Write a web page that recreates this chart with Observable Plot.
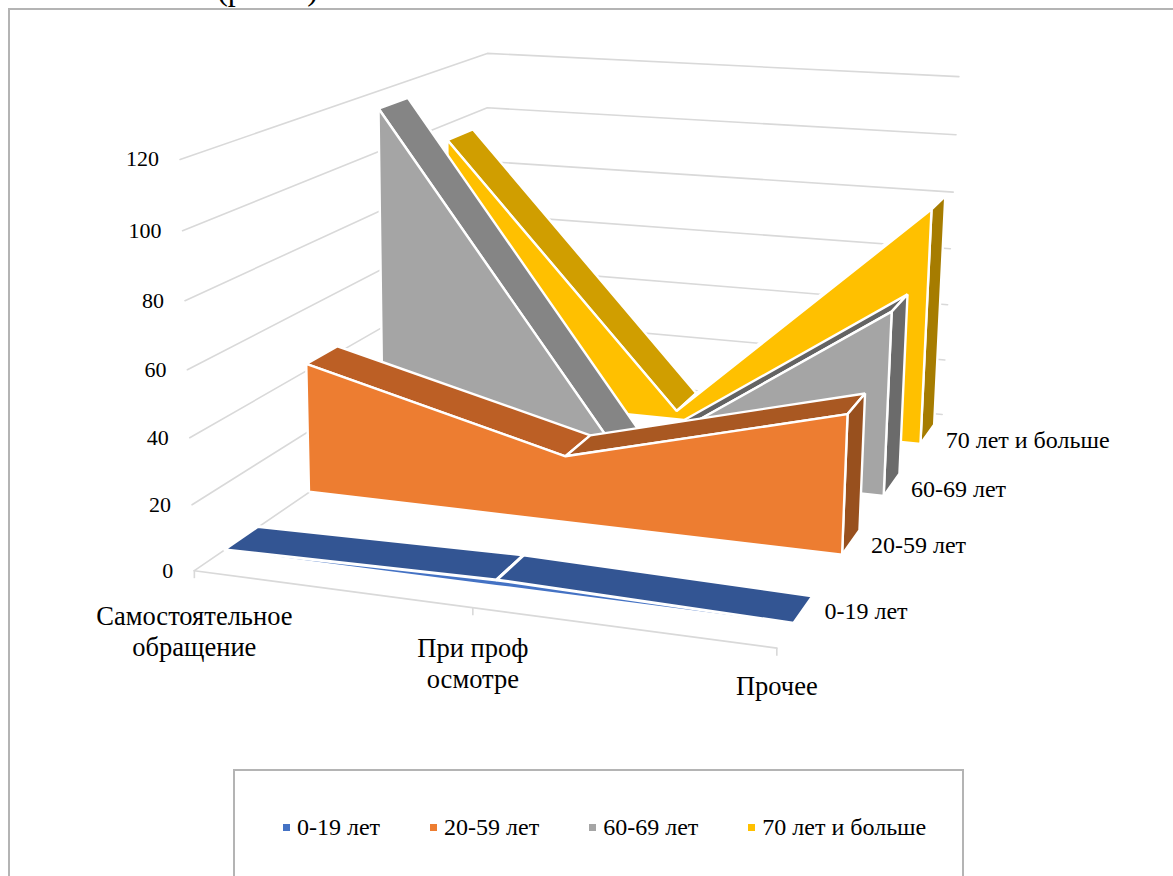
<!DOCTYPE html>
<html lang="ru">
<head>
<meta charset="utf-8">
<script src="https://cdn.jsdelivr.net/npm/d3@7"></script>
<script src="https://cdn.jsdelivr.net/npm/@observablehq/plot@0.6"></script>
<style>
  html, body { margin: 0; padding: 0; background: #fff; }
  #page { position: relative; width: 1173px; height: 876px; overflow: hidden; font-family: "Liberation Serif", serif; color: #000; }
  #frame { position: absolute; left: 8px; top: 8px; width: 1300px; height: 1000px; border: 2px solid #b4b4b4; box-sizing: border-box; }
  #chart { position: absolute; left: 0; top: 0; }
  #chart svg { display: block; background: transparent; }
  #legend { position: absolute; left: 233px; top: 769px; width: 731px; height: 200px; border: 2px solid #b4b4b4; box-sizing: border-box; background: #fff; }
  #legend .row { position: absolute; top: 42px; left: 48px; display: flex; gap: 50px; font-size: 24px; line-height: 28px; white-space: nowrap; }
  #legend .item { display: flex; align-items: center; gap: 7px; }
  #legend .sw { width: 7px; height: 7px; display: inline-block; }
</style>
</head>
<body>
<div id="page">
  <div id="frame"></div>
  <div id="chart"></div>
  <div id="legend"><div class="row"></div></div>
</div>
<script>
// Admission routes along the category axis, age groups along the depth axis.
const categories = ["Самостоятельное\nобращение", "При проф\nосмотре", "Прочее"];
const seriesNames = ["0-19 лет", "20-59 лет", "60-69 лет", "70 лет и больше"];
const values0to19 = [0, 1.5, 0];
const values20to59 = [42, 21, 43];
const values60to69 = [114, 2, 60];
const values70plus = [94, 3, 81];
const valueTicks = [0, 20, 40, 60, 80, 100, 120];
const categoryLabelDrop = [60, 55, 37];

// Face colours per series: front, top of first slope, top of second slope, right end.
const facePalette = [
  {front: "#4472c4", top: ["#335593", "#335593"], side: "#2f5089"},
  {front: "#ed7d31", top: ["#bc5f25", "#a95822"], side: "#98501e"},
  {front: "#a5a5a5", top: ["#858585", "#636363"], side: "#6b6b6b"},
  {front: "#ffc000", top: ["#d09e00", "#d09e00"], side: "#a67c00"}
];
const seriesValues = [values0to19, values20to59, values60to69, values70plus];
const bandFront = [0.08, 0.33, 0.58, 0.835];
const bandBack = [0.175, 0.43, 0.685, 0.94];
const uAt = [0, 0.5, 1];
const wMax = 120;

// Camera of the 3D box: box corners (u, v, w) and where they land on the page.
const cameraAnchors = [
  [0, 0, 0, 196, 570], [1, 0, 0, 776, 648], [0.5, 0, 0, 473, 607],
  [0, 1, 0, 484, 370], [1, 1, 0, 943, 414],
  [0, 0, 1, 177, 159], [0, 1, 1, 490, 53], [1, 1, 1, 957, 76]
];

// Least-squares solve of the 11-parameter projective camera.
function solveCamera(anchors) {
  const rows = [];
  for (const [u, v, w, X, Y] of anchors) {
    rows.push([u, v, w, 1, 0, 0, 0, 0, -X * u, -X * v, -X * w, X]);
    rows.push([0, 0, 0, 0, u, v, w, 1, -Y * u, -Y * v, -Y * w, Y]);
  }
  const n = 11;
  const A = d3.range(n).map(() => new Array(n + 1).fill(0));
  for (const r of rows) {
    for (let i = 0; i < n; i++) {
      for (let j = 0; j < n; j++) A[i][j] += r[i] * r[j];
      A[i][n] += r[i] * r[n];
    }
  }
  for (let c = 0; c < n; c++) {
    let best = c;
    for (let r = c + 1; r < n; r++) if (Math.abs(A[r][c]) > Math.abs(A[best][c])) best = r;
    [A[c], A[best]] = [A[best], A[c]];
    for (let r = 0; r < n; r++) {
      if (r === c) continue;
      const f = A[r][c] / A[c][c];
      for (let k = c; k <= n; k++) A[r][k] -= f * A[c][k];
    }
  }
  return A.map((row, i) => row[n] / row[i]);
}
const cam = solveCamera(cameraAnchors);
function project(u, v, value) {
  const w = value / wMax;
  const d = cam[8] * u + cam[9] * v + cam[10] * w + 1;
  return [
    (cam[0] * u + cam[1] * v + cam[2] * w + cam[3]) / d,
    (cam[4] * u + cam[5] * v + cam[6] * w + cam[7]) / d
  ];
}

// One strip of an area mark between two projected edges.
const strip = (a, b) => {
  const [x1, y1] = project(...a), [x2, y2] = project(...b);
  return {x1, y1, x2, y2};
};
const faceMark = (rows, fill, strokeWidth = 2.4) =>
  Plot.area(rows, {x1: "x1", y1: "y1", x2: "x2", y2: "y2", fill, stroke: "#fff", strokeWidth, strokeLinejoin: "miter"});

// Painter's order: farthest series first. The youngest group is almost flat,
// so its front sits beneath its top face; the others get top, end cap, front.
const seriesMarks = [];
for (let s = seriesValues.length - 1; s >= 0; s--) {
  const vals = seriesValues[s], v0 = bandFront[s], v1 = bandBack[s], col = facePalette[s];
  const front = faceMark(uAt.map((u, j) => strip([u, v0, vals[j]], [u, v0, 0])), col.front, s === 0 ? 0 : 2.4);
  if (s === 0) seriesMarks.push(front);
  for (let j = 0; j < 2; j++) {
    seriesMarks.push(faceMark([
      strip([uAt[j], v0, vals[j]], [uAt[j], v1, vals[j]]),
      strip([uAt[j + 1], v0, vals[j + 1]], [uAt[j + 1], v1, vals[j + 1]])
    ], col.top[j], s === 0 ? 3 : 2.4));
  }
  if (s > 0) {
    seriesMarks.push(faceMark([
      strip([1, v0, vals[2]], [1, v0, 0]),
      strip([1, v1, vals[2]], [1, v1, 0])
    ], col.side));
    seriesMarks.push(front);
  }
}

// Gridlines run along the left wall and across the back wall.
const gridRows = valueTicks.flatMap((t) => [[0, 0], [0, 1], [1, 1]].map(([u, v]) => {
  const [x, y] = project(u, v, t);
  return {x, y, t};
}));
const floorRows = [[0, 0], [1, 0]].map(([u, v]) => {
  const [x, y] = project(u, v, 0);
  return {x, y};
});
const tickRows = uAt.map((u) => {
  const [x, y] = project(u, 0, 0);
  return {x, y};
});
const yLabelRows = valueTicks.map((t) => {
  const [x, y] = project(0, 0, t);
  return {x, y, t};
});
const catLabelRows = categories.map((label, i) => {
  const [x, y] = project(uAt[i], 0, 0);
  return {x, y: y + categoryLabelDrop[i], label};
});
const seriesLabelRows = seriesNames.map((label, s) => {
  const [x, y] = project(1, bandBack[s], 0);
  return {x, y, label};
});

const textStyle = {fontFamily: "Liberation Serif", fontSize: 22, fill: "#000"};

const chart = Plot.plot({
  width: 1173,
  height: 876,
  margin: 0,
  x: {type: "identity", axis: null},
  y: {type: "identity", axis: null},
  marks: [
    Plot.text(["(рис. 5)"], {x: () => 267, y: () => -1, lineAnchor: "bottom", ...textStyle, fontSize: 32}),
    Plot.line(gridRows, {x: "x", y: "y", z: "t", stroke: "#d9d9d9", strokeWidth: 1.6}),
    Plot.line(floorRows, {x: "x", y: "y", stroke: "#d9d9d9", strokeWidth: 1.6}),
    Plot.ruleX(tickRows, {x: "x", y1: "y", y2: (d) => d.y + 8, stroke: "#d9d9d9", strokeWidth: 1.6}),
    ...seriesMarks,
    Plot.text(yLabelRows, {x: "x", y: "y", text: (d) => String(d.t), textAnchor: "end", dx: -21, ...textStyle}),
    Plot.text(catLabelRows, {x: "x", y: "y", text: "label", lineHeight: 1.17, ...textStyle, fontSize: 26.5}),
    Plot.text(seriesLabelRows, {x: "x", y: "y", text: "label", textAnchor: "start", dx: 11, dy: 15, ...textStyle, fontSize: 24})
  ]
});
document.getElementById("chart").append(chart);

// Legend box sits below the plot area.
const legendRow = document.querySelector("#legend .row");
seriesNames.forEach((name, s) => {
  const item = document.createElement("span");
  item.className = "item";
  const sw = document.createElement("span");
  sw.className = "sw";
  sw.style.background = facePalette[s].front;
  item.append(sw, document.createTextNode(name));
  legendRow.append(item);
});
</script>
</body>
</html>
